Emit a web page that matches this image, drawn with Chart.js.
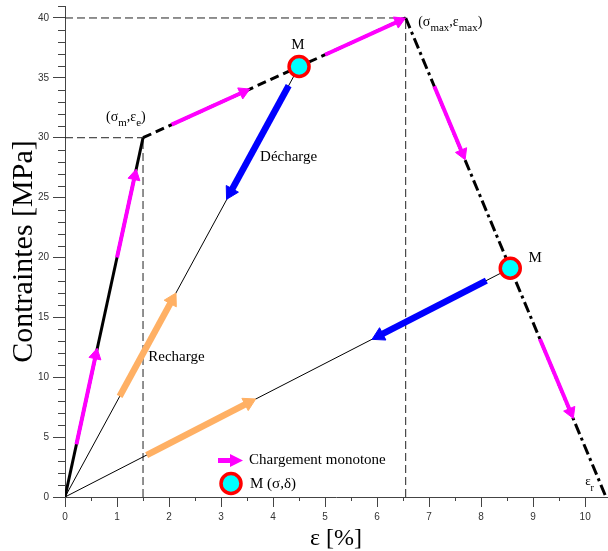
<!DOCTYPE html>
<html>
<head>
<meta charset="utf-8">
<script src="https://cdn.jsdelivr.net/npm/chart.js@4.4.1/dist/chart.umd.min.js"></script>
<style>
  html, body { margin: 0; padding: 0; background: #fff; }
  #wrap { width: 608px; height: 551px; }
</style>
</head>
<body>
<div id="wrap"><canvas id="chart" width="608" height="551"></canvas></div>
<script>
// courbe de chargement monotone : élastique -> plastique -> adoucissement
const monotoneEps = [0, 1.5, 6.55, 10.4];
const monotoneSig = [0, 30, 40, 0];

// points M (σ, δ) sur la courbe
const pointsEps = [4.5, 8.56];
const pointsSig = [35.95, 19.1];

// flèches : début -> fin
const chargeFrom = [[0.22, 4.4], [1.0, 20], [2.05, 31.1], [5.0, 36.93], [7.1, 34.3], [9.13, 13.2]];
const chargeTo = [[0.59, 11.84], [1.34, 26.8], [3.43, 33.82], [6.42, 39.74], [7.64, 28.7], [9.72, 7.1]];
const dechargeFrom = [[4.3, 34.35], [8.1, 18.07]];
const dechargeTo = [[3.18, 25.44], [6.04, 13.47]];
const rechargeFrom = [[1.05, 8.4], [1.57, 3.5]];
const rechargeTo = [[2.06, 16.45], [3.53, 7.88]];

const xTicks = [0, 1, 2, 3, 4, 5, 6, 7, 8, 9, 10];
const yTicks = [0, 5, 10, 15, 20, 25, 30, 35, 40];

const MAGENTA = "#FF00FF";
const BLEU = "#0000FF";
const ORANGE = "#FFB064";
const SERIF = '"Liberation Serif", "Times New Roman", serif';

// textes posés en coordonnées du graphe
const labels = [
  { parts: [["Décharge"]], x: 3.75, y: 28.39 },
  { parts: [["Recharge"]], x: 1.6, y: 11.69 },
  { parts: [["M"]], x: 4.48, y: 37.74, align: "center" },
  { parts: [["M"]], x: 9.04, y: 19.96, align: "center" },
  { parts: [["(σ"], ["m", true], [",ε"], ["e", true], [")"]], x: 0.79, y: 31.73, size: 14 },
  { parts: [["(σ"], ["max", true], [",ε"], ["max", true], [")"]], x: 6.79, y: 39.66, size: 14 },
  { parts: [["ε"], ["r", true]], x: 10.0, y: 1.25, size: 13 }
];

function pt(p) {
  return { x: p[0], y: p[1] };
}

function headAngle(ctx) {
  const d = ctx.dataset.data;
  const sx = ctx.chart.scales.x;
  const sy = ctx.chart.scales.y;
  if (!sx || !sy || d.length < 2) return 0;
  const dx = sx.getPixelForValue(d[1].x) - sx.getPixelForValue(d[0].x);
  const dy = sy.getPixelForValue(d[1].y) - sy.getPixelForValue(d[0].y);
  return Math.atan2(dx, -dy) * 180 / Math.PI;
}

function arrowDataset(from, to, color, width, head) {
  return {
    data: [pt(from), pt(to)],
    showLine: true,
    borderColor: color,
    borderWidth: width,
    borderCapStyle: "butt",
    pointStyle: "triangle",
    pointRadius: ctx => (ctx.dataIndex === 1 ? head : 0),
    pointHoverRadius: ctx => (ctx.dataIndex === 1 ? head : 0),
    pointBackgroundColor: color,
    pointBorderColor: color,
    pointBorderWidth: 1,
    rotation: headAngle,
    order: 1
  };
}

function guideDataset(a, b) {
  return {
    data: [a, b],
    showLine: true,
    borderColor: "#222",
    borderWidth: 1,
    borderDash: [8, 4],
    pointRadius: 0,
    order: 4
  };
}

const datasets = [];

// pointillés de repère
datasets.push(guideDataset({ x: 0, y: monotoneSig[1] }, { x: monotoneEps[1], y: monotoneSig[1] }));
datasets.push(guideDataset({ x: monotoneEps[1], y: 0 }, { x: monotoneEps[1], y: monotoneSig[1] }));
datasets.push(guideDataset({ x: 0, y: monotoneSig[2] }, { x: monotoneEps[2], y: monotoneSig[2] }));
datasets.push(guideDataset({ x: monotoneEps[2], y: 0 }, { x: monotoneEps[2], y: monotoneSig[2] }));

// droites de décharge / recharge vers l'origine
pointsEps.forEach((e, i) => {
  datasets.push({
    data: [{ x: 0, y: 0 }, { x: e, y: pointsSig[i] }],
    showLine: true,
    borderColor: "#000",
    borderWidth: 1,
    pointRadius: 0,
    order: 3
  });
});

// courbe monotone
datasets.push({
  data: monotoneEps.map((e, i) => ({ x: e, y: monotoneSig[i] })),
  showLine: true,
  borderColor: "#000",
  borderWidth: 3,
  pointRadius: 0,
  segment: {
    borderDash: ctx => (ctx.p0DataIndex === 1 ? [9, 5] : ctx.p0DataIndex === 2 ? [11, 4, 3, 4] : undefined)
  },
  order: 2
});

chargeFrom.forEach((f, i) => datasets.push(arrowDataset(f, chargeTo[i], MAGENTA, 4, 7)));
dechargeFrom.forEach((f, i) => datasets.push(arrowDataset(f, dechargeTo[i], BLEU, 6.5, 8)));
rechargeFrom.forEach((f, i) => datasets.push(arrowDataset(f, rechargeTo[i], ORANGE, 6.5, 8)));

// points M
datasets.push({
  data: pointsEps.map((e, i) => ({ x: e, y: pointsSig[i] })),
  showLine: false,
  pointRadius: 10,
  pointHoverRadius: 10,
  pointBackgroundColor: "#00FFFF",
  pointBorderColor: "#FF0000",
  pointBorderWidth: 3.5,
  order: 0
});

function drawRich(ctx, parts, x, y, size, align) {
  const subSize = Math.round(size * 0.78);
  let total = 0;
  parts.forEach(([t, sub]) => {
    ctx.font = `${sub ? subSize : size}px ${SERIF}`;
    total += ctx.measureText(t).width;
  });
  let cx = align === "center" ? x - total / 2 : x;
  ctx.textAlign = "left";
  ctx.textBaseline = "middle";
  parts.forEach(([t, sub]) => {
    ctx.font = `${sub ? subSize : size}px ${SERIF}`;
    ctx.fillText(t, cx, sub ? y + 6 : y);
    cx += ctx.measureText(t).width;
  });
}

const decorPlugin = {
  id: "decor",
  afterDraw(chart) {
    const { ctx, scales: { x, y } } = chart;
    const area = chart.chartArea;
    ctx.save();

    // petites graduations
    ctx.strokeStyle = "#444";
    ctx.lineWidth = 1;
    ctx.beginPath();
    for (let v = 1; v <= 41; v += 1) {
      if (v % 5 === 0) continue;
      const py = Math.round(y.getPixelForValue(v)) + 0.5;
      ctx.moveTo(area.left - 7, py);
      ctx.lineTo(area.left, py);
    }
    for (let v = 0.5; v <= 10.42; v += 1) {
      const px = Math.round(x.getPixelForValue(v)) + 0.5;
      ctx.moveTo(px, area.bottom);
      ctx.lineTo(px, area.bottom + 4);
    }
    ctx.stroke();

    // annotations
    ctx.fillStyle = "#000";
    labels.forEach(lab => {
      drawRich(ctx, lab.parts, x.getPixelForValue(lab.x), y.getPixelForValue(lab.y), lab.size || 15, lab.align);
    });

    // légende
    ctx.strokeStyle = MAGENTA;
    ctx.lineWidth = 5;
    ctx.beginPath();
    ctx.moveTo(218, 460.5);
    ctx.lineTo(233, 460.5);
    ctx.stroke();
    ctx.fillStyle = MAGENTA;
    ctx.beginPath();
    ctx.moveTo(243, 460.5);
    ctx.lineTo(230, 454);
    ctx.lineTo(230, 467);
    ctx.closePath();
    ctx.fill();

    ctx.beginPath();
    ctx.arc(231, 483.5, 10, 0, Math.PI * 2);
    ctx.fillStyle = "#00FFFF";
    ctx.fill();
    ctx.strokeStyle = "#FF0000";
    ctx.lineWidth = 3.5;
    ctx.stroke();

    ctx.fillStyle = "#000";
    drawRich(ctx, [["Chargement monotone"]], 249, 460, 15);
    drawRich(ctx, [["M (σ,δ)"]], 250, 484, 15);

    ctx.restore();
  }
};

new Chart(document.getElementById("chart"), {
  type: "scatter",
  data: { datasets },
  options: {
    responsive: false,
    animation: false,
    events: [],
    layout: { autoPadding: false, padding: { top: 6, right: 1, left: 0, bottom: 0 } },
    plugins: {
      legend: { display: false },
      tooltip: { enabled: false }
    },
    scales: {
      x: {
        type: "linear",
        min: 0,
        max: 10.42,
        afterBuildTicks: s => { s.ticks = xTicks.map(v => ({ value: v })); },
        afterFit: s => {
          s.height = 54;
          s.paddingLeft = 0;
          s.paddingRight = 0;
        },
        grid: { drawOnChartArea: false, drawTicks: true, tickLength: 10, tickColor: "#444" },
        border: { display: true, color: "#444", width: 1 },
        ticks: {
          font: { family: "Liberation Sans", size: 10 },
          color: "#333",
          padding: 4,
          maxRotation: 0,
          autoSkip: false
        },
        title: {
          display: true,
          text: "ε [%]",
          color: "#000",
          font: { family: "Liberation Serif", size: 24, lineHeight: 1 },
          padding: { top: 0, bottom: 0 }
        }
      },
      y: {
        type: "linear",
        min: 0,
        max: 41,
        afterBuildTicks: s => { s.ticks = yTicks.map(v => ({ value: v })); },
        afterFit: s => {
          s.width = 65;
          s.paddingTop = 0;
          s.paddingBottom = 0;
        },
        grid: { drawOnChartArea: false, drawTicks: true, tickLength: 12, tickColor: "#444" },
        border: { display: true, color: "#444", width: 1 },
        ticks: {
          font: { family: "Liberation Sans", size: 10 },
          color: "#333",
          padding: 4
        },
        title: {
          display: true,
          text: "Contraintes [MPa]",
          color: "#000",
          font: { family: "Liberation Serif", size: 30, lineHeight: 1 },
          padding: { top: 9, bottom: 0 }
        }
      }
    }
  },
  plugins: [decorPlugin]
});
</script>
</body>
</html>
